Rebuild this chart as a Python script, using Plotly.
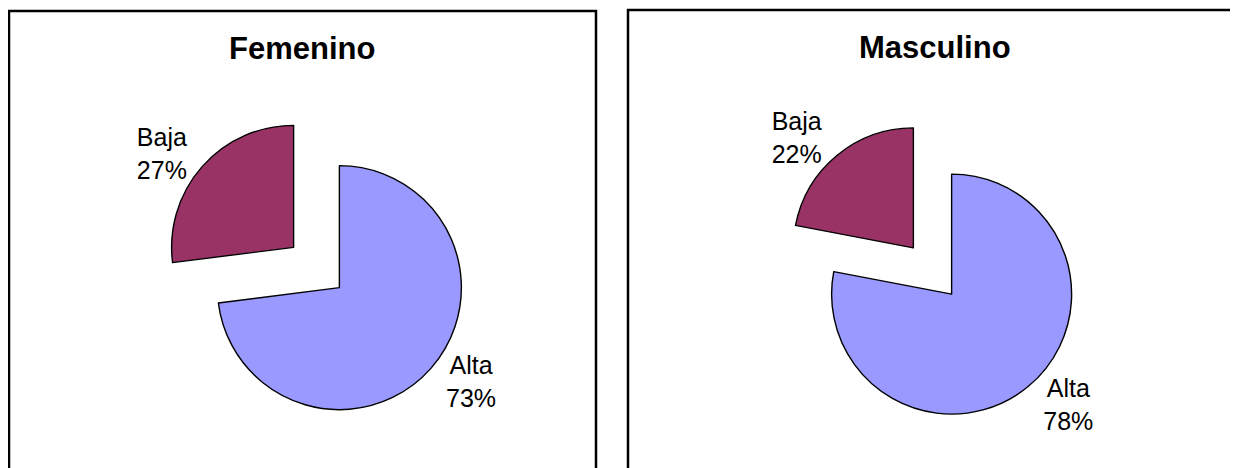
import plotly.graph_objects as go

W, H = 1238, 468
# the page body adds an 8px margin, so positions are shifted back by that
OFF = 8

labels = ["Alta", "Baja"]
femenino_values = [73, 27]
masculino_values = [78, 22]
slice_colors = ["#9999FF", "#993366"]
titles = ["Femenino", "Masculino"]


def px_x(x):
    return (x - OFF) / W


def px_y(y):
    return 1 - (y - OFF) / H


def pie(values, x0, x1, y0, y1):
    return go.Pie(
        labels=labels,
        values=values,
        sort=False,
        direction="clockwise",
        rotation=0,
        pull=[0.25, 0.25],
        marker=dict(colors=slice_colors, line=dict(color="#000000", width=1.4)),
        texttemplate="%{label}<br>%{percent:.0%}",
        textposition="outside",
        textfont=dict(family="Liberation Sans, Arial, sans-serif", size=25, color="#000000"),
        domain=dict(x=[px_x(x0), px_x(x1)], y=[px_y(y1), px_y(y0)]),
        hoverinfo="skip",
        showlegend=False,
    )


fig = go.Figure()
fig.add_trace(pie(femenino_values, 164, 469, 115, 420))
fig.add_trace(pie(masculino_values, 782.5, 1082.5, 121, 421))

# panel frames (open at the bottom, right one runs off the page)
frames = [(9, 596, 11), (628, 1300, 10)]
for x0, x1, y0 in frames:
    fig.add_shape(
        type="rect",
        xref="paper", yref="paper",
        x0=px_x(x0), x1=px_x(x1), y0=px_y(y0), y1=-0.1,
        line=dict(color="#000000", width=2.5),
        fillcolor="rgba(0,0,0,0)",
    )

for text, cx, cy in zip(titles, [302, 934.5], [48, 47]):
    fig.add_annotation(
        text=f"<b>{text}</b>",
        xref="paper", yref="paper",
        x=px_x(cx), y=px_y(cy),
        xanchor="center", yanchor="middle",
        showarrow=False,
        font=dict(family="Liberation Sans, Arial, sans-serif", size=31, color="#000000"),
    )

fig.update_layout(
    width=W,
    height=H,
    margin=dict(l=0, r=0, t=0, b=0, autoexpand=False),
    paper_bgcolor="#FFFFFF",
    plot_bgcolor="#FFFFFF",
    showlegend=False,
)

fig.write_html("out.html")
